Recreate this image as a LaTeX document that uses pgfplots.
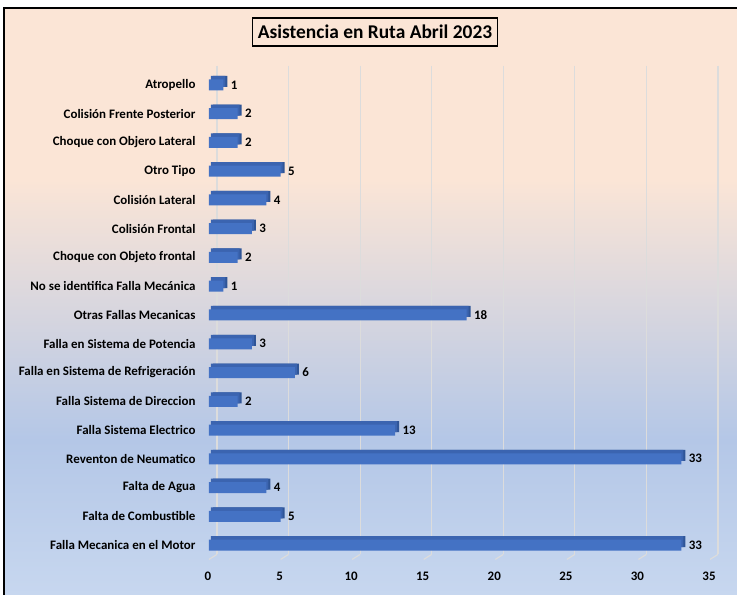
\documentclass[border=0pt]{standalone}
\usepackage{fontspec}
\setmainfont{Carlito}
\usepackage{pgfplots}
\pgfplotsset{compat=1.18}
\definecolor{cPeach}{HTML}{FBE5D6}
\definecolor{cBlue}{HTML}{B4C7E7}
\definecolor{cLow}{HTML}{C7D7EF}
\definecolor{cBar}{HTML}{4472C4}
\definecolor{cTop}{HTML}{3B64B0}
\definecolor{cDepth}{HTML}{2F5597}
\definecolor{cGrid}{HTML}{DCDCDC}

\begin{document}
\begin{tikzpicture}
  % frame, background and title, in pixels of the 737x595 picture,
  % shifted so that the axis box starts at the origin
  \begin{scope}[shift={(-209bp,-35.6bp)}, x=1bp, y=1bp]
    \path[use as bounding box] (0,0) rectangle (737,595);
    \fill[cPeach] (4,415) rectangle (737,587);
    \shade[top color=cPeach, bottom color=cBlue] (4,155) rectangle (737,415.5);
    \shade[top color=cBlue, bottom color=cLow] (4,0) rectangle (737,155.5);
    \draw[black, line width=2bp] (4,0) -- (4,587) -- (737,587);
    \node[draw=black, line width=1.3bp, fill=cPeach, inner xsep=5bp, inner ysep=7bp,
          font=\fontsize{19.5}{23}\selectfont\bfseries] at (375,563) {Asistencia en Ruta Abril 2023};
  \end{scope}

  \begin{axis}[
      scale only axis, width=501bp, height=488.8bp,
      xbar, bar width=11bp,
      xmin=0, xmax=35,
      ymin=-0.5, ymax=16.5,
      y dir=reverse,
      xtick={0,5,...,35},
      ytick={0,...,16},
      yticklabels={Atropello, Colisión Frente Posterior, Choque con Objero Lateral,
        Otro Tipo, Colisión Lateral, Colisión Frontal, Choque con Objeto frontal,
        No se identifica Falla Mecánica, Otras Fallas Mecanicas,
        Falla en Sistema de Potencia, Falla en Sistema de Refrigeración,
        Falla Sistema de Direccion, Falla Sistema Electrico, Reventon de Neumatico,
        Falta de Agua, Falta de Combustible, Falla Mecanica en el Motor},
      axis line style={draw=none},
      major tick length=0pt,
      xmajorgrids, ymajorgrids=false,
      x grid style={cGrid, line width=1.2bp, xshift=8bp, yshift=5bp},
      tick label style={font=\fontsize{13}{15}\selectfont\bfseries},
      /pgf/number format/assume math mode=true,
      xticklabel style={yshift=-9bp, xshift=-1bp},
      yticklabel style={xshift=-10bp},
      clip=false,
    ]
    \pgfplotsinvokeforeach{0,5,...,35}{
      \draw[cGrid, line width=1.2bp] (axis cs:#1,16.5) -- ++(8bp,5bp);
    }
    % right side of the bars
    \addplot[fill=cDepth, draw=none, bar shift=0pt, xshift=4bp, yshift=3.5bp] coordinates {
      (1,0) (2,1) (2,2) (5,3) (4,4) (3,5) (2,6) (1,7) (18,8) (3,9)
      (6,10) (2,11) (13,12) (33,13) (4,14) (5,15) (33,16)
    };
    % top of the bars
    \addplot[fill=cTop, draw=none, bar shift=0pt, xshift=2bp, yshift=3.5bp] coordinates {
      (1,0) (2,1) (2,2) (5,3) (4,4) (3,5) (2,6) (1,7) (18,8) (3,9)
      (6,10) (2,11) (13,12) (33,13) (4,14) (5,15) (33,16)
    };
    % front face
    \addplot[fill=cBar, draw=none, bar shift=0pt,
      nodes near coords,
      every node near coord/.append style={anchor=west, xshift=4bp, text=black,
        font=\fontsize{13}{15}\selectfont\bfseries}] coordinates {
      (1,0) (2,1) (2,2) (5,3) (4,4) (3,5) (2,6) (1,7) (18,8) (3,9)
      (6,10) (2,11) (13,12) (33,13) (4,14) (5,15) (33,16)
    };
  \end{axis}
\end{tikzpicture}
\end{document}
